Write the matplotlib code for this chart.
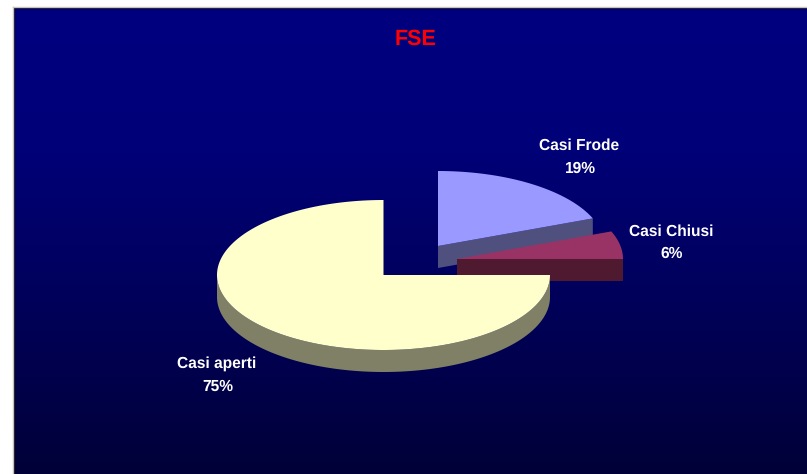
import numpy as np
import matplotlib
matplotlib.use("Agg")
import matplotlib.pyplot as plt

categories = ["Casi Frode", "Casi Chiusi", "Casi aperti"]
values = [19, 6, 75]
percent_labels = ["19%", "6%", "75%"]
title = "FSE"

centers = [(438, 246), (456.5, 259), (383.5, 275)]
top_colors = ["#9999ff", "#993366", "#ffffcc"]
side_colors = ["#50507f", "#4f1a30", "#808066"]
name_pos = [(579, 146), (671, 231.5), (217, 363.5)]
pct_pos = [(580, 169), (672, 254), (218, 386.5)]
RX, RY, DEPTH = 166.5, 75, 22

plt.rcParams["font.family"] = ["Liberation Sans", "DejaVu Sans"]
plt.rcParams["text.hinting"] = "no_hinting"
W, H = 807, 474
fig = plt.figure(figsize=(W / 100, H / 100), dpi=100, facecolor="white")
ax = fig.add_axes([0, 0, 1, 1])

# panel background with vertical gradient
L, T = 14, 8
stops_y = np.linspace(0, 1, 256)
grad = np.zeros((256, 1, 3))
grad[:, 0, 2] = np.interp(stops_y, [0, 0.3, 1], [128 / 255, 120 / 255, 56 / 255])
ax.imshow(grad, extent=(L, W, H, T), aspect="auto", zorder=0, interpolation="bilinear")
ax.set_xlim(0, W)
ax.set_ylim(H, 0)
ax.axis("off")
ax.plot([L - .5, L - .5], [H, T - .5], color="#000000", lw=1.2, zorder=1)
ax.plot([L - .5, W], [T - .5, T - .5], color="#000000", lw=1.2, zorder=1)
ax.plot([L - 1.5, L - 1.5], [H, T - 1.5], color="#c8c4bc", lw=1, zorder=1)
ax.plot([L - 1.5, W], [T - 1.5, T - 1.5], color="#c8c4bc", lw=1, zorder=1)


def pt(c, a, dy=0):
    return c[0] + RX * np.sin(a), c[1] - RY * np.cos(a) + dy


fracs = np.cumsum([0] + values) / sum(values) * 2 * np.pi
for i, c in enumerate(centers):
    a0, a1 = fracs[i], fracs[i + 1]
    z = 2 + i
    # visible front of the outer rim
    f0, f1 = max(a0, np.pi / 2), min(a1, 3 * np.pi / 2)
    if f1 > f0:
        t = np.linspace(f0, f1, 200)
        xs, ys = pt(c, t)
        xb, yb = pt(c, t[::-1], DEPTH)
        ax.fill(np.r_[xs, xb], np.r_[ys, yb], color=side_colors[i], lw=0, zorder=z)
    # cut face at the end of the slice (visible for the right-hand slices)
    if a1 < np.pi:
        xe, ye = pt(c, a1)
        ax.fill([c[0], xe, xe, c[0]], [c[1], ye, ye + DEPTH, c[1] + DEPTH],
                color=side_colors[i], lw=0, zorder=z)
    t = np.linspace(a0, a1, 300)
    xs, ys = pt(c, t)
    ax.fill(np.r_[c[0], xs], np.r_[c[1], ys], color=top_colors[i], lw=0, zorder=z + 0.5)
    ax.text(*name_pos[i], categories[i], color="white", fontsize=11.2,
            fontweight="bold", ha="center", va="center", zorder=10)
    ax.text(*pct_pos[i], percent_labels[i], color="white", fontsize=11.2,
            fontweight="bold", ha="center", va="center", zorder=10)

ax.text(415, 39, title, color="#ff0000", fontsize=15.5, fontweight="bold",
        ha="center", va="center", zorder=10)
fig.savefig("out.png", dpi=100, facecolor="white")
